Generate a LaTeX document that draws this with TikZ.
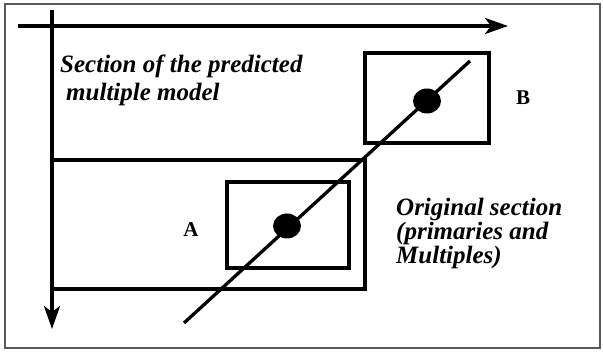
\documentclass[tikz,border=0pt]{standalone}
\usepackage{fontspec}
\setmainfont{Liberation Serif}
\usetikzlibrary{arrows.meta,shapes.geometric}
\begin{document}
\begin{tikzpicture}[x=1pt,y=-1pt,
  thick line/.style={line width=3.3pt},
  box/.style={draw,line width=3.3pt,inner sep=0pt,outer sep=0pt,anchor=north west},
  axis/.style={line width=3.3pt,-{Stealth[length=23pt,width=16pt,inset=6pt]}},
  lbl/.style={font=\bfseries\itshape\fontsize{25}{28}\selectfont,align=left,inner sep=0pt},
  lblb/.style={font=\bfseries\itshape\fontsize{25}{24}\selectfont,align=left,inner sep=0pt},
  letter/.style={font=\bfseries\fontsize{21}{24}\selectfont,inner sep=0pt},
  dot/.style={ellipse,fill=black,minimum width=28pt,minimum height=25pt,inner sep=0pt}]
\useasboundingbox (0,0) rectangle (603,352);
\draw[line width=1.5pt,gray!70!black] (5,4) rectangle (600,348);
% axes
\coordinate (hs) at (18,26);
\coordinate (he) at (508,26);
\coordinate (vs) at (52,10);
\coordinate (ve) at (52,329);
\draw[axis] (hs) -- (he);
\draw[axis] (vs) -- (ve);
% rectangles
\node[box,minimum width=313pt,minimum height=129pt] (orig) at (52,160) {};
\node[box,minimum width=122pt,minimum height=86pt] (ra) at (227,182) {};
\node[box,minimum width=124pt,minimum height=90pt] (rb) at (365,53) {};
% diagonal line and dots
\coordinate (ls) at (184,323);
\coordinate (le) at (470,61);
\draw[thick line] (ls) -- (le);
\node[dot] (da) at (287,226) {};
\node[dot] (db) at (427,101) {};
% labels
\node[letter] (la) at (191,230) {A};
\node[letter] (lb) at (523,98) {B};
\node[lbl,anchor=north west] (t1) at (60,55) {Section of the predicted\\\hspace*{6pt}multiple model};
\node[lblb,anchor=north west] (t2) at (396,198) {Original section\\(primaries and\\Multiples)};
\end{tikzpicture}
\end{document}
